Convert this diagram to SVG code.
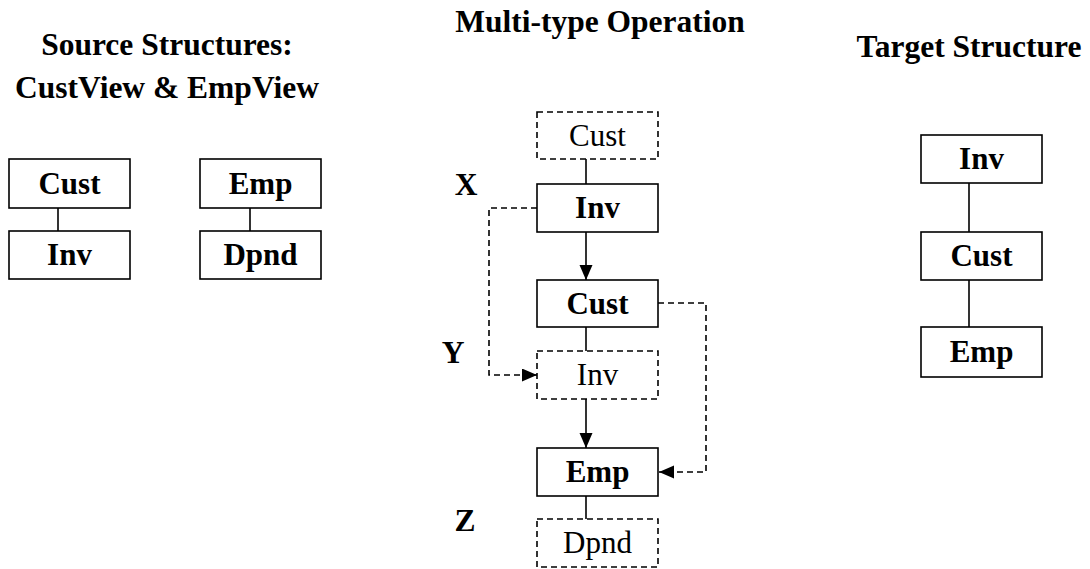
<svg xmlns="http://www.w3.org/2000/svg" width="1090" height="569" viewBox="0 0 1090 569">
<style>
text{font-family:"Liberation Serif","Times New Roman",serif;fill:#000;text-anchor:middle}
.title{font-size:31.5px;font-weight:bold}
.b{font-size:31px;font-weight:bold}
.r{font-size:31px}
.box{fill:#fff;stroke:#000;stroke-width:1.6}
.dbox{fill:#fff;stroke:#000;stroke-width:1.6;stroke-dasharray:6,4}
.ln{fill:none;stroke:#000;stroke-width:1.6}
.dln{fill:none;stroke:#000;stroke-width:1.6;stroke-dasharray:6,4}
</style>
<defs>
<marker id="arr" markerUnits="userSpaceOnUse" markerWidth="16" markerHeight="14" refX="15" refY="6.5" orient="auto">
<path d="M0,0 L15,6.5 L0,13 z" fill="#000"/>
</marker>
</defs>
<rect width="1090" height="569" fill="#fff"/>
<g id="titles">
<text class="title" x="167" y="55">Source Structures:</text>
<text class="title" x="167" y="98">CustView &amp; EmpView</text>
<text class="title" x="600" y="32">Multi-type Operation</text>
<text class="title" x="969" y="57">Target Structure</text>
<text class="title" x="466" y="195">X</text>
<text class="title" x="453" y="363">Y</text>
<text class="title" x="465" y="531">Z</text>
</g>
<g id="connectors">
<line class="ln" x1="58" y1="208" x2="58" y2="231"/>
<line class="ln" x1="250" y1="208" x2="250" y2="231"/>
<line class="ln" x1="586" y1="159" x2="586" y2="184"/>
<line class="ln" x1="586" y1="232" x2="586" y2="280" marker-end="url(#arr)"/>
<line class="ln" x1="586" y1="327" x2="586" y2="351"/>
<line class="ln" x1="586" y1="399" x2="586" y2="448" marker-end="url(#arr)"/>
<line class="ln" x1="586" y1="496" x2="586" y2="519"/>
<path class="dln" d="M537,208 H489 V375 H537" marker-end="url(#arr)"/>
<path class="dln" d="M658,303 H706 V472 H659" marker-end="url(#arr)"/>
<line class="ln" x1="969" y1="183" x2="969" y2="232"/>
<line class="ln" x1="969" y1="280" x2="969" y2="327"/>
</g>
<g id="src-cust"><rect class="box" x="9" y="159" width="121" height="49"/><text class="b" x="69.5" y="194">Cust</text></g>
<g id="src-inv"><rect class="box" x="9" y="231" width="121" height="48"/><text class="b" x="69.5" y="265">Inv</text></g>
<g id="src-emp"><rect class="box" x="200" y="159" width="121" height="49"/><text class="b" x="260.5" y="194">Emp</text></g>
<g id="src-dpnd"><rect class="box" x="200" y="231" width="121" height="48"/><text class="b" x="260.5" y="265">Dpnd</text></g>
<g id="mid-cust-d"><rect class="dbox" x="537" y="112" width="121" height="47"/><text class="r" x="597.5" y="146">Cust</text></g>
<g id="mid-inv"><rect class="box" x="537" y="184" width="121" height="48"/><text class="b" x="597.5" y="218">Inv</text></g>
<g id="mid-cust"><rect class="box" x="537" y="280" width="121" height="47"/><text class="b" x="597.5" y="314">Cust</text></g>
<g id="mid-inv-d"><rect class="dbox" x="537" y="351" width="121" height="48"/><text class="r" x="597.5" y="385">Inv</text></g>
<g id="mid-emp"><rect class="box" x="537" y="448" width="121" height="48"/><text class="b" x="597.5" y="482">Emp</text></g>
<g id="mid-dpnd-d"><rect class="dbox" x="537" y="519" width="121" height="48"/><text class="r" x="597.5" y="553">Dpnd</text></g>
<g id="tgt-inv"><rect class="box" x="921" y="135" width="121" height="48"/><text class="b" x="981.5" y="169">Inv</text></g>
<g id="tgt-cust"><rect class="box" x="921" y="232" width="121" height="48"/><text class="b" x="981.5" y="266">Cust</text></g>
<g id="tgt-emp"><rect class="box" x="921" y="327" width="121" height="50"/><text class="b" x="981.5" y="362">Emp</text></g>
</svg>
